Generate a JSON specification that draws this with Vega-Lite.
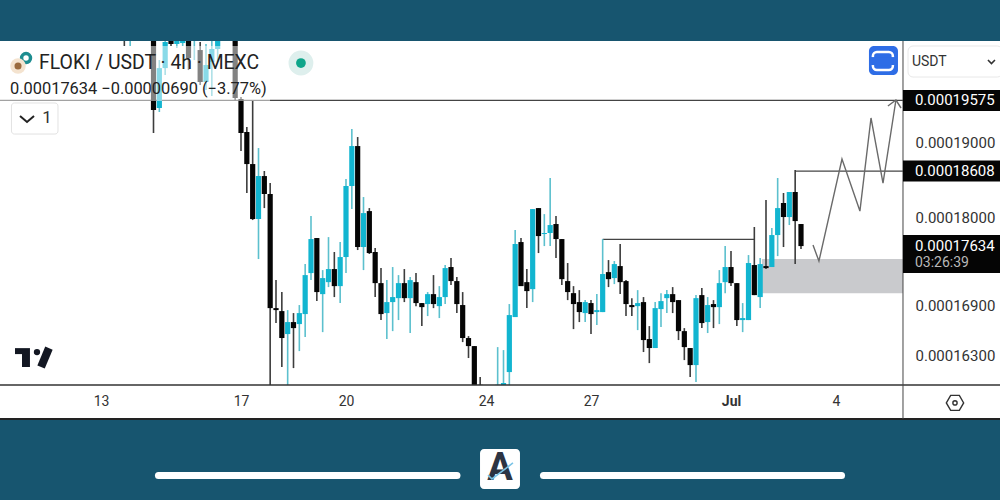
{"$schema":"https://vega.github.io/schema/vega-lite/v6.json","width":1000,"height":378,"autosize":"none","padding":{"top":41,"left":0,"right":0,"bottom":81},"background":"#17556f","view":{"fill":"#ffffff","stroke":null},"config":{"text":{"font":"Roboto"},"axis":{"labelFont":"Roboto"}},
"data":{"values":[{"item":"annotation"}]},
"datasets":{"candles":[
{"time":"2024-06-13T16:00Z","open":0.00020514,"high":0.00020514,"low":0.00020354,"close":0.00020499},
{"time":"2024-06-13T20:00Z","open":0.00020499,"high":0.00020514,"low":0.00020354,"close":0.00020514},
{"time":"2024-06-14T12:00Z","open":0.00020514,"high":0.00020514,"low":0.00019123,"close":0.00019441},
{"time":"2024-06-14T16:00Z","open":0.00019469,"high":0.00020150,"low":0.00019413,"close":0.00020034},
{"time":"2024-06-14T20:00Z","open":0.00020034,"high":0.00020514,"low":0.00019934,"close":0.00020412},
{"time":"2024-06-15T00:00Z","open":0.00020514,"high":0.00020514,"low":0.00020354,"close":0.00020383},
{"time":"2024-06-15T04:00Z","open":0.00020383,"high":0.00020514,"low":0.00020325,"close":0.00020470},
{"time":"2024-06-15T08:00Z","open":0.00020397,"high":0.00020514,"low":0.00020354,"close":0.00020441},
{"time":"2024-06-15T12:00Z","open":0.00020514,"high":0.00020514,"low":0.00020006,"close":0.00020179},
{"time":"2024-06-15T16:00Z","open":0.00020499,"high":0.00020514,"low":0.00020150,"close":0.00020514},
{"time":"2024-06-15T20:00Z","open":0.00020295,"high":0.00020412,"low":0.00019792,"close":0.00019835},
{"time":"2024-06-16T00:00Z","open":0.00019835,"high":0.00020383,"low":0.00019721,"close":0.00020078},
{"time":"2024-06-16T04:00Z","open":0.00020121,"high":0.00020470,"low":0.00019637,"close":0.00020310},
{"time":"2024-06-16T08:00Z","open":0.00020310,"high":0.00020514,"low":0.00020121,"close":0.00020470},
{"time":"2024-06-16T20:00Z","open":0.00020514,"high":0.00020514,"low":0.00019567,"close":0.00019609},
{"time":"2024-06-17T00:00Z","open":0.00019595,"high":0.00019623,"low":0.00018877,"close":0.00019123},
{"time":"2024-06-17T04:00Z","open":0.00019137,"high":0.00019205,"low":0.00018318,"close":0.00018702},
{"time":"2024-06-17T08:00Z","open":0.00018702,"high":0.00019581,"low":0.00017966,"close":0.00017979},
{"time":"2024-06-17T12:00Z","open":0.00017979,"high":0.00018918,"low":0.00017471,"close":0.00018542},
{"time":"2024-06-17T16:00Z","open":0.00018542,"high":0.00018609,"low":0.00018121,"close":0.00018305},
{"time":"2024-06-17T20:00Z","open":0.00018305,"high":0.00018449,"low":0.00015962,"close":0.00016867},
{"time":"2024-06-18T00:00Z","open":0.00016867,"high":0.00017209,"low":0.00016687,"close":0.00016843},
{"time":"2024-06-18T04:00Z","open":0.00016831,"high":0.00017062,"low":0.00016169,"close":0.00016509},
{"time":"2024-06-18T08:00Z","open":0.00016556,"high":0.00016843,"low":0.00015962,"close":0.00016699},
{"time":"2024-06-18T12:00Z","open":0.00016699,"high":0.00016807,"low":0.00016157,"close":0.00016627},
{"time":"2024-06-18T16:00Z","open":0.00016675,"high":0.00016904,"low":0.00016355,"close":0.00016807},
{"time":"2024-06-18T20:00Z","open":0.00016795,"high":0.00017408,"low":0.00016520,"close":0.00017271},
{"time":"2024-06-19T00:00Z","open":0.00017296,"high":0.00018017,"low":0.00017209,"close":0.00017723},
{"time":"2024-06-19T04:00Z","open":0.00017736,"high":0.00017736,"low":0.00016952,"close":0.00017062},
{"time":"2024-06-19T08:00Z","open":0.00017037,"high":0.00017333,"low":0.00016579,"close":0.00017234},
{"time":"2024-06-19T12:00Z","open":0.00017184,"high":0.00017748,"low":0.00017123,"close":0.00017346},
{"time":"2024-06-19T16:00Z","open":0.00017346,"high":0.00017559,"low":0.00017001,"close":0.00017135},
{"time":"2024-06-19T20:00Z","open":0.00017135,"high":0.00017685,"low":0.00016928,"close":0.00017496},
{"time":"2024-06-20T00:00Z","open":0.00017496,"high":0.00018502,"low":0.00017296,"close":0.00018410},
{"time":"2024-06-20T04:00Z","open":0.00018410,"high":0.00019177,"low":0.00018108,"close":0.00018945},
{"time":"2024-06-20T08:00Z","open":0.00018945,"high":0.00019068,"low":0.00017584,"close":0.00017622},
{"time":"2024-06-20T12:00Z","open":0.00017622,"high":0.00018265,"low":0.00017333,"close":0.00018056},
{"time":"2024-06-20T16:00Z","open":0.00018082,"high":0.00018121,"low":0.00017534,"close":0.00017546},
{"time":"2024-06-20T20:00Z","open":0.00017559,"high":0.00017609,"low":0.00017001,"close":0.00017172},
{"time":"2024-06-21T00:00Z","open":0.00017172,"high":0.00017358,"low":0.00016723,"close":0.00016795},
{"time":"2024-06-21T04:00Z","open":0.00016807,"high":0.00017209,"low":0.00016497,"close":0.00016940},
{"time":"2024-06-21T08:00Z","open":0.00016940,"high":0.00017371,"low":0.00016591,"close":0.00017001},
{"time":"2024-06-21T12:00Z","open":0.00016988,"high":0.00017271,"low":0.00016723,"close":0.00017172},
{"time":"2024-06-21T16:00Z","open":0.00017172,"high":0.00017346,"low":0.00016940,"close":0.00016988},
{"time":"2024-06-21T20:00Z","open":0.00016988,"high":0.00017246,"low":0.00016568,"close":0.00017209},
{"time":"2024-06-22T00:00Z","open":0.00017184,"high":0.00017296,"low":0.00016891,"close":0.00016928},
{"time":"2024-06-22T04:00Z","open":0.00016928,"high":0.00016928,"low":0.00016651,"close":0.00016879},
{"time":"2024-06-22T08:00Z","open":0.00016916,"high":0.00017062,"low":0.00016771,"close":0.00017037},
{"time":"2024-06-22T12:00Z","open":0.00017037,"high":0.00017271,"low":0.00016867,"close":0.00016916},
{"time":"2024-06-22T16:00Z","open":0.00016891,"high":0.00017135,"low":0.00016747,"close":0.00017001},
{"time":"2024-06-22T20:00Z","open":0.00017001,"high":0.00017396,"low":0.00016916,"close":0.00017358},
{"time":"2024-06-23T00:00Z","open":0.00017371,"high":0.00017483,"low":0.00017148,"close":0.00017197},
{"time":"2024-06-23T04:00Z","open":0.00017197,"high":0.00017246,"low":0.00016807,"close":0.00016916},
{"time":"2024-06-23T08:00Z","open":0.00016904,"high":0.00017062,"low":0.00016461,"close":0.00016509},
{"time":"2024-06-23T12:00Z","open":0.00016509,"high":0.00016532,"low":0.00016274,"close":0.00016414},
{"time":"2024-06-23T16:00Z","open":0.00016414,"high":0.00016414,"low":0.00015962,"close":0.00015962},
{"time":"2024-06-23T20:00Z","open":0.00015965,"high":0.00016053,"low":0.00015962,"close":0.00015962},
{"time":"2024-06-24T08:00Z","open":0.00015962,"high":0.00016402,"low":0.00015962,"close":0.00015965},
{"time":"2024-06-24T12:00Z","open":0.00015962,"high":0.00016367,"low":0.00015962,"close":0.00015985},
{"time":"2024-06-24T16:00Z","open":0.00016111,"high":0.00016916,"low":0.00015962,"close":0.00016783},
{"time":"2024-06-24T20:00Z","open":0.00016759,"high":0.00017838,"low":0.00016759,"close":0.00017660},
{"time":"2024-06-25T00:00Z","open":0.00017685,"high":0.00017736,"low":0.00017135,"close":0.00017135},
{"time":"2024-06-25T04:00Z","open":0.00017184,"high":0.00017346,"low":0.00016867,"close":0.00017074},
{"time":"2024-06-25T08:00Z","open":0.00017098,"high":0.00018108,"low":0.00016940,"close":0.00018108},
{"time":"2024-06-25T12:00Z","open":0.00018121,"high":0.00018121,"low":0.00017546,"close":0.00017761},
{"time":"2024-06-25T16:00Z","open":0.00017787,"high":0.00018043,"low":0.00017634,"close":0.00017800},
{"time":"2024-06-25T20:00Z","open":0.00017800,"high":0.00018516,"low":0.00017634,"close":0.00017902},
{"time":"2024-06-26T00:00Z","open":0.00017915,"high":0.00018017,"low":0.00017483,"close":0.00017723},
{"time":"2024-06-26T04:00Z","open":0.00017723,"high":0.00017723,"low":0.00017148,"close":0.00017221},
{"time":"2024-06-26T08:00Z","open":0.00017197,"high":0.00017421,"low":0.00016964,"close":0.00017062},
{"time":"2024-06-26T12:00Z","open":0.00017049,"high":0.00017135,"low":0.00016615,"close":0.00016916},
{"time":"2024-06-26T16:00Z","open":0.00016940,"high":0.00017086,"low":0.00016699,"close":0.00016819},
{"time":"2024-06-26T20:00Z","open":0.00016807,"high":0.00016964,"low":0.00016699,"close":0.00016940},
{"time":"2024-06-27T00:00Z","open":0.00016928,"high":0.00016964,"low":0.00016556,"close":0.00016795},
{"time":"2024-06-27T04:00Z","open":0.00016819,"high":0.00017037,"low":0.00016663,"close":0.00016843},
{"time":"2024-06-27T08:00Z","open":0.00016819,"high":0.00017723,"low":0.00016819,"close":0.00017284},
{"time":"2024-06-27T12:00Z","open":0.00017308,"high":0.00017458,"low":0.00017123,"close":0.00017221},
{"time":"2024-06-27T16:00Z","open":0.00017234,"high":0.00017446,"low":0.00017160,"close":0.00017408},
{"time":"2024-06-27T20:00Z","open":0.00017383,"high":0.00017660,"low":0.00017037,"close":0.00017184},
{"time":"2024-06-28T00:00Z","open":0.00017197,"high":0.00017209,"low":0.00016771,"close":0.00016916},
{"time":"2024-06-28T04:00Z","open":0.00016904,"high":0.00016988,"low":0.00016771,"close":0.00016879},
{"time":"2024-06-28T08:00Z","open":0.00016891,"high":0.00017086,"low":0.00016603,"close":0.00016928},
{"time":"2024-06-28T12:00Z","open":0.00016940,"high":0.00017001,"low":0.00016344,"close":0.00016485},
{"time":"2024-06-28T16:00Z","open":0.00016497,"high":0.00016651,"low":0.00016215,"close":0.00016391},
{"time":"2024-06-28T20:00Z","open":0.00016391,"high":0.00016940,"low":0.00016391,"close":0.00016867},
{"time":"2024-06-29T00:00Z","open":0.00016855,"high":0.00017049,"low":0.00016639,"close":0.00016952},
{"time":"2024-06-29T04:00Z","open":0.00016988,"high":0.00017086,"low":0.00016807,"close":0.00017037},
{"time":"2024-06-29T08:00Z","open":0.00017037,"high":0.00017123,"low":0.00016807,"close":0.00016940},
{"time":"2024-06-29T12:00Z","open":0.00016964,"high":0.00016964,"low":0.00016485,"close":0.00016591},
{"time":"2024-06-29T16:00Z","open":0.00016591,"high":0.00016627,"low":0.00016250,"close":0.00016402},
{"time":"2024-06-29T20:00Z","open":0.00016391,"high":0.00016391,"low":0.00016053,"close":0.00016192},
{"time":"2024-06-30T00:00Z","open":0.00016192,"high":0.00017025,"low":0.00015996,"close":0.00016988},
{"time":"2024-06-30T04:00Z","open":0.00017025,"high":0.00017111,"low":0.00016627,"close":0.00016687},
{"time":"2024-06-30T08:00Z","open":0.00016699,"high":0.00017001,"low":0.00016568,"close":0.00016904},
{"time":"2024-06-30T12:00Z","open":0.00016916,"high":0.00016964,"low":0.00016627,"close":0.00016879},
{"time":"2024-06-30T16:00Z","open":0.00016879,"high":0.00017333,"low":0.00016675,"close":0.00017172},
{"time":"2024-06-30T20:00Z","open":0.00017184,"high":0.00017634,"low":0.00017049,"close":0.00017371},
{"time":"2024-07-01T00:00Z","open":0.00017371,"high":0.00017571,"low":0.00017135,"close":0.00017172},
{"time":"2024-07-01T04:00Z","open":0.00017172,"high":0.00017172,"low":0.00016651,"close":0.00016723},
{"time":"2024-07-01T08:00Z","open":0.00016723,"high":0.00016928,"low":0.00016579,"close":0.00016747},
{"time":"2024-07-01T12:00Z","open":0.00016723,"high":0.00017521,"low":0.00016723,"close":0.00017421},
{"time":"2024-07-01T16:00Z","open":0.00017396,"high":0.00017877,"low":0.00017025,"close":0.00017025},
{"time":"2024-07-01T20:00Z","open":0.00017001,"high":0.00017483,"low":0.00016867,"close":0.00017408},
{"time":"2024-07-02T00:00Z","open":0.00017383,"high":0.00018226,"low":0.00017346,"close":0.00017358},
{"time":"2024-07-02T04:00Z","open":0.00017371,"high":0.00017864,"low":0.00017371,"close":0.00017774},
{"time":"2024-07-02T08:00Z","open":0.00017774,"high":0.00018516,"low":0.00017508,"close":0.00018121},
{"time":"2024-07-02T12:00Z","open":0.00018187,"high":0.00018318,"low":0.00017622,"close":0.00018005},
{"time":"2024-07-02T16:00Z","open":0.00018005,"high":0.00018331,"low":0.00017902,"close":0.00018331},
{"time":"2024-07-02T20:00Z","open":0.00018331,"high":0.00018622,"low":0.00017408,"close":0.00017953},
{"time":"2024-07-03T00:00Z","open":0.00017915,"high":0.00017915,"low":0.00017597,"close":0.00017634}
],
"levels":[
{"price":0.00019575,"from":"2024-06-10T02:44:34Z","to":"2024-07-05T21:56Z"},
{"price":0.00018608,"from":"2024-07-02T20:00Z","to":"2024-07-05T21:56Z"},
{"price":0.0001772,"from":"2024-06-27T08:00Z","to":"2024-07-01T16:00Z"}
],
"projection":[
{"time":"2024-07-03T08:14Z","price":0.00017647},
{"time":"2024-07-03T12:18Z","price":0.00017445},
{"time":"2024-07-04T04:06Z","price":0.00018769},
{"time":"2024-07-04T16:24Z","price":0.00018082},
{"time":"2024-07-05T00:00Z","price":0.0001933},
{"time":"2024-07-05T08:14Z","price":0.00018449},
{"time":"2024-07-05T17:06Z","price":0.00019581}
],
"arrow":[
{"time":"2024-07-05T11:36Z","price":0.00019497},
{"time":"2024-07-05T17:06Z","price":0.00019581},
{"time":"2024-07-05T20:36Z","price":0.00019469}
],
"priceTags":[
{"price":0.00019575,"label":"0.00019575"},
{"price":0.00018608,"label":"0.00018608"},
{"price":0.00017634,"label":"0.00017634"}
]},
"layer":[
{"mark":{"type":"rect","color":"#c9cacd"},"encoding":{
"x":{"datum":{"year":2024,"month":7,"date":1,"hours":21,"minutes":12,"utc":true},"type":"temporal","scale":{"domain":[{"year":2024,"month":6,"date":10,"hours":2,"minutes":44,"seconds":34,"utc":true},{"year":2024,"month":7,"date":8,"hours":16,"minutes":27,"seconds":26,"utc":true}],"nice":false,"padding":0},"axis":{"values":[{"year":2024,"month":6,"date":13,"utc":true},{"year":2024,"month":6,"date":17,"utc":true},{"year":2024,"month":6,"date":20,"utc":true},{"year":2024,"month":6,"date":24,"utc":true},{"year":2024,"month":6,"date":27,"utc":true},{"year":2024,"month":7,"date":1,"utc":true},{"year":2024,"month":7,"date":4,"utc":true}],"labelExpr":"utcdate(datum.value)==1?'Jul':utcFormat(datum.value,'%-d')","labelFontWeight":{"condition":{"test":"utcdate(datum.value)==1","value":"bold"},"value":"normal"},"title":null,"orient":"bottom","offset":-34,"domain":false,"ticks":false,"grid":false,"labelPadding":9,"labelFontSize":14,"labelColor":"#333333","labelOverlap":false,"labelFlush":false}},"x2":{"datum":{"year":2024,"month":7,"date":5,"hours":21,"minutes":56,"utc":true}},
"y":{"datum":0.0001747,"type":"quantitative","scale":{"type":"log","domain":[0.00015578,0.00020427],"nice":false,"zero":false,"padding":0},"axis":{"values":[0.00019,0.00018,0.000169,0.000163],"format":".8f","title":null,"orient":"right","offset":-97,"domain":false,"ticks":false,"grid":false,"labelPadding":12,"labelFontSize":15,"labelColor":"#333333","labelOverlap":false,"labelFlush":false}},"y2":{"datum":0.00017049}}},
{"data":{"name":"levels"},"mark":{"type":"rule","color":"#444444","strokeWidth":1.3},"encoding":{"x":{"field":"from","type":"temporal"},"x2":{"field":"to"},"y":{"field":"price","type":"quantitative"}}},
{"data":{"name":"candles"},"mark":{"type":"rule","clip":true,"strokeWidth":1.6},"encoding":{"x":{"field":"time","type":"temporal"},"y":{"field":"high","type":"quantitative"},"y2":{"field":"low"},"color":{"condition":{"test":"datum.close>=datum.open","value":"#5cc0ce"},"value":"#3d3d3d"}}},
{"data":{"name":"candles"},"mark":{"type":"bar","clip":true,"size":5.2},"encoding":{"x":{"field":"time","type":"temporal"},"y":{"field":"open","type":"quantitative"},"y2":{"field":"close"},"color":{"condition":{"test":"datum.close>=datum.open","value":"#12b5d0"},"value":"#050505"}}},
{"data":{"name":"projection"},"mark":{"type":"line","color":"#6a6a6a","strokeWidth":1.4},"encoding":{"x":{"field":"time","type":"temporal"},"y":{"field":"price","type":"quantitative"}}},
{"data":{"name":"arrow"},"mark":{"type":"line","color":"#6a6a6a","strokeWidth":1.4},"encoding":{"x":{"field":"time","type":"temporal"},"y":{"field":"price","type":"quantitative"}}},
{"mark":{"type":"rule","color":"#333333","strokeWidth":1.6},"encoding":{"y":{"datum":0.00015962,"type":"quantitative"}}},
{"mark":{"type":"rule","color":"#222222","strokeWidth":2},"encoding":{"y":{"datum":0.00015578,"type":"quantitative"}}},
{"mark":{"type":"rule","color":"#444444","strokeWidth":1},"encoding":{"x":{"datum":{"year":2024,"month":7,"date":5,"hours":21,"minutes":56,"utc":true},"type":"temporal"}}},
{"mark":{"type":"rect","color":"#ffffff","opacity":0.5},"encoding":{"x":{"datum":{"year":2024,"month":6,"date":10,"hours":2,"minutes":44,"utc":true},"type":"temporal"},"x2":{"datum":{"year":2024,"month":6,"date":17,"hours":19,"minutes":54,"utc":true}},"y":{"datum":0.00020354,"type":"quantitative"},"y2":{"datum":0.00019567}}},
{"mark":{"type":"text","align":"left","baseline":"middle","fontSize":19.4,"color":"#222222"},"encoding":{"text":{"datum":"FLOKI / USDT · 4h · MEXC"},"x":{"datum":{"year":2024,"month":6,"date":11,"hours":5,"minutes":29,"utc":true},"type":"temporal"},"y":{"datum":0.00020107,"type":"quantitative"}}},
{"mark":{"type":"text","align":"left","baseline":"middle","fontSize":16.4,"color":"#222222"},"encoding":{"text":{"datum":"0.00017634  −0.00000690 (−3.77%)"},"x":{"datum":{"year":2024,"month":6,"date":10,"hours":9,"minutes":36,"utc":true},"type":"temporal"},"y":{"datum":0.00019735,"type":"quantitative"}}},
{"mark":{"type":"point","filled":true,"color":"#1d8d90","opacity":1,"size":154},"encoding":{"x":{"datum":{"year":2024,"month":6,"date":10,"hours":20,"minutes":36,"utc":true},"type":"temporal"},"y":{"datum":0.00020179,"type":"quantitative"}}},
{"mark":{"type":"point","filled":true,"color":"#ffffff","opacity":1,"size":30},"encoding":{"x":{"datum":{"year":2024,"month":6,"date":10,"hours":20,"minutes":36,"utc":true},"type":"temporal"},"y":{"datum":0.00020179,"type":"quantitative"}}},
{"mark":{"type":"point","filled":true,"color":"#f4e3cf","opacity":1,"size":240},"encoding":{"x":{"datum":{"year":2024,"month":6,"date":10,"hours":15,"minutes":6,"utc":true},"type":"temporal"},"y":{"datum":0.00020064,"type":"quantitative"}}},
{"mark":{"type":"point","filled":true,"color":"#9a6a3e","opacity":1,"size":50},"encoding":{"x":{"datum":{"year":2024,"month":6,"date":10,"hours":15,"minutes":6,"utc":true},"type":"temporal"},"y":{"datum":0.00020064,"type":"quantitative"}}},
{"mark":{"type":"point","filled":true,"color":"#deefed","opacity":1,"size":616},"encoding":{"x":{"datum":{"year":2024,"month":6,"date":18,"hours":17,"minutes":6,"utc":true},"type":"temporal"},"y":{"datum":0.00020107,"type":"quantitative"}}},
{"mark":{"type":"point","filled":true,"color":"#0fa58a","opacity":1,"size":95},"encoding":{"x":{"datum":{"year":2024,"month":6,"date":18,"hours":17,"minutes":6,"utc":true},"type":"temporal"},"y":{"datum":0.00020107,"type":"quantitative"}}},
{"mark":{"type":"rect","fill":"#ffffff","stroke":"#e2e2e2","strokeWidth":1,"cornerRadius":3},"encoding":{"x":{"datum":{"year":2024,"month":6,"date":10,"hours":10,"minutes":36,"utc":true},"type":"temporal"},"x2":{"datum":{"year":2024,"month":6,"date":11,"hours":18,"minutes":30,"utc":true}},"y":{"datum":0.00019539,"type":"quantitative"},"y2":{"datum":0.00019109}}},
{"data":{"values":[{"time":"2024-06-10T16:28Z","price":0.00019358},{"time":"2024-06-10T21:16Z","price":0.00019274},{"time":"2024-06-11T02:04Z","price":0.00019358}]},"mark":{"type":"line","color":"#222222","strokeWidth":2},"encoding":{"x":{"field":"time","type":"temporal"},"y":{"field":"price","type":"quantitative"}}},
{"mark":{"type":"text","align":"center","baseline":"middle","fontSize":17,"color":"#333333"},"encoding":{"text":{"datum":"1"},"x":{"datum":{"year":2024,"month":6,"date":11,"hours":11,"utc":true},"type":"temporal"},"y":{"datum":0.0001933,"type":"quantitative"}}},
{"mark":{"type":"rect","color":"#131722"},"encoding":{"x":{"datum":{"year":2024,"month":6,"date":10,"hours":13,"minutes":1,"utc":true},"type":"temporal"},"x2":{"datum":{"year":2024,"month":6,"date":10,"hours":23,"minutes":17,"utc":true}},"y":{"datum":0.0001639,"type":"quantitative"},"y2":{"datum":0.0001632}}},
{"mark":{"type":"rect","color":"#131722"},"encoding":{"x":{"datum":{"year":2024,"month":6,"date":10,"hours":17,"minutes":50,"utc":true},"type":"temporal"},"x2":{"datum":{"year":2024,"month":6,"date":10,"hours":23,"minutes":17,"utc":true}},"y":{"datum":0.0001632,"type":"quantitative"},"y2":{"datum":0.00016169}}},
{"mark":{"type":"point","filled":true,"color":"#131722","opacity":1,"size":40},"encoding":{"x":{"datum":{"year":2024,"month":6,"date":11,"hours":4,"minutes":6,"utc":true},"type":"temporal"},"y":{"datum":0.00016344,"type":"quantitative"}}},
{"data":{"values":[{"time":"2024-06-11T06:54Z","price":0.00016169},{"time":"2024-06-11T12:18Z","price":0.0001639}]},"mark":{"type":"line","color":"#131722","strokeWidth":8,"strokeCap":"butt"},"encoding":{"x":{"field":"time","type":"temporal"},"y":{"field":"price","type":"quantitative"}}},
{"mark":{"type":"rect","color":"#2e6de6","cornerRadius":5},"encoding":{"x":{"datum":{"year":2024,"month":7,"date":4,"hours":22,"minutes":36,"utc":true},"type":"temporal"},"x2":{"datum":{"year":2024,"month":7,"date":5,"hours":18,"minutes":30,"utc":true}},"y":{"datum":0.00020354,"type":"quantitative"},"y2":{"datum":0.00019934}}},
{"mark":{"type":"rect","fillOpacity":0,"stroke":"#ffffff","strokeWidth":2.5,"cornerRadius":4},"encoding":{"x":{"datum":{"year":2024,"month":7,"date":5,"hours":1,"minutes":18,"utc":true},"type":"temporal"},"x2":{"datum":{"year":2024,"month":7,"date":5,"hours":15,"utc":true}},"y":{"datum":0.00020266,"type":"quantitative"},"y2":{"datum":0.00020006}}},
{"mark":{"type":"rect","color":"#2e6de6"},"encoding":{"x":{"datum":{"year":2024,"month":7,"date":5,"hours":0,"utc":true},"type":"temporal"},"x2":{"datum":{"year":2024,"month":7,"date":5,"hours":16,"minutes":24,"utc":true}},"y":{"datum":0.00020193,"type":"quantitative"},"y2":{"datum":0.00020078}}},
{"mark":{"type":"rect","fill":"#ffffff","stroke":"#e8e8e8","strokeWidth":1,"cornerRadius":5,"clip":true},"encoding":{"x":{"datum":{"year":2024,"month":7,"date":6,"hours":1,"minutes":24,"utc":true},"type":"temporal"},"x2":{"datum":{"year":2024,"month":7,"date":8,"hours":18,"utc":true}},"y":{"datum":0.00020354,"type":"quantitative"},"y2":{"datum":0.00019906}}},
{"mark":{"type":"text","align":"left","baseline":"middle","fontSize":14,"color":"#333333"},"encoding":{"text":{"datum":"USDT"},"x":{"datum":{"year":2024,"month":7,"date":6,"hours":4,"minutes":6,"utc":true},"type":"temporal"},"y":{"datum":0.00020121,"type":"quantitative"}}},
{"data":{"values":[{"time":"2024-07-08T08:12Z","price":0.0002015},{"time":"2024-07-08T10:36Z","price":0.000201},{"time":"2024-07-08T13:00Z","price":0.0002015}]},"mark":{"type":"line","color":"#333333","strokeWidth":1.6},"encoding":{"x":{"field":"time","type":"temporal"},"y":{"field":"price","type":"quantitative"}}},
{"data":{"name":"priceTags"},"transform":[{"filter":"datum.label!='0.00017634'"}],"mark":{"type":"rule","color":"#050505","strokeWidth":21},"encoding":{"x":{"datum":{"year":2024,"month":7,"date":5,"hours":21,"minutes":56,"utc":true},"type":"temporal"},"x2":{"datum":{"year":2024,"month":7,"date":8,"hours":16,"minutes":27,"seconds":26,"utc":true}},"y":{"field":"price","type":"quantitative"}}},
{"mark":{"type":"rule","color":"#050505","strokeWidth":38},"encoding":{"x":{"datum":{"year":2024,"month":7,"date":5,"hours":21,"minutes":56,"utc":true},"type":"temporal"},"x2":{"datum":{"year":2024,"month":7,"date":8,"hours":16,"minutes":27,"seconds":26,"utc":true}},"y":{"datum":0.00017534,"type":"quantitative"}}},
{"data":{"name":"priceTags"},"mark":{"type":"text","align":"left","baseline":"middle","fontSize":15,"color":"#ffffff"},"encoding":{"text":{"field":"label"},"x":{"datum":{"year":2024,"month":7,"date":6,"hours":6,"minutes":6,"utc":true},"type":"temporal"},"y":{"field":"price","type":"quantitative"}}},
{"mark":{"type":"text","align":"left","baseline":"middle","fontSize":14,"color":"#b8b8b8"},"encoding":{"text":{"datum":"03:26:39"},"x":{"datum":{"year":2024,"month":7,"date":6,"hours":6,"minutes":6,"utc":true},"type":"temporal"},"y":{"datum":0.0001742,"type":"quantitative"}}},
{"mark":{"type":"point","filled":false,"color":"#333333","opacity":1,"strokeWidth":1.4,"size":300,"shape":"M-1,0L-0.5,-0.87L0.5,-0.87L1,0L0.5,0.87L-0.5,0.87Z"},"encoding":{"x":{"datum":{"year":2024,"month":7,"date":7,"hours":9,"minutes":36,"utc":true},"type":"temporal"},"y":{"datum":0.00015759,"type":"quantitative"}}},
{"mark":{"type":"point","filled":false,"color":"#333333","opacity":1,"strokeWidth":1.4,"size":18},"encoding":{"x":{"datum":{"year":2024,"month":7,"date":7,"hours":9,"minutes":36,"utc":true},"type":"temporal"},"y":{"datum":0.00015759,"type":"quantitative"}}},
{"mark":{"type":"rule","color":"#ffffff","strokeWidth":7,"strokeCap":"round"},"encoding":{"x":{"datum":{"year":2024,"month":6,"date":14,"hours":15,"minutes":24,"utc":true},"type":"temporal"},"x2":{"datum":{"year":2024,"month":6,"date":23,"hours":4,"minutes":6,"utc":true}},"y":{"datum":0.0001496,"type":"quantitative"}}},
{"mark":{"type":"rule","color":"#ffffff","strokeWidth":7,"strokeCap":"round"},"encoding":{"x":{"datum":{"year":2024,"month":6,"date":25,"hours":15,"minutes":24,"utc":true},"type":"temporal"},"x2":{"datum":{"year":2024,"month":7,"date":4,"hours":3,"minutes":48,"utc":true}},"y":{"datum":0.0001496,"type":"quantitative"}}},
{"mark":{"type":"rect","color":"#ffffff","cornerRadius":4},"encoding":{"x":{"datum":{"year":2024,"month":6,"date":23,"hours":19,"minutes":54,"utc":true},"type":"temporal"},"x2":{"datum":{"year":2024,"month":6,"date":24,"hours":23,"minutes":18,"utc":true}},"y":{"datum":0.00015247,"type":"quantitative"},"y2":{"datum":0.00014816}}},
{"mark":{"type":"text","align":"center","baseline":"middle","fontSize":38,"fontWeight":"bold","color":"#2d3442"},"encoding":{"text":{"datum":"A"},"x":{"datum":{"year":2024,"month":6,"date":24,"hours":9,"minutes":36,"utc":true},"type":"temporal"},"y":{"datum":0.00015029,"type":"quantitative"}}},
{"data":{"values":[{"time":"2024-06-24T01:24Z","price":0.00014964},{"time":"2024-06-24T04:06Z","price":0.00014922},{"time":"2024-06-24T18:30Z","price":0.00015095}]},"mark":{"type":"line","color":"#7cc4e6","strokeWidth":1.6},"encoding":{"x":{"field":"time","type":"temporal"},"y":{"field":"price","type":"quantitative"}}}
]}
